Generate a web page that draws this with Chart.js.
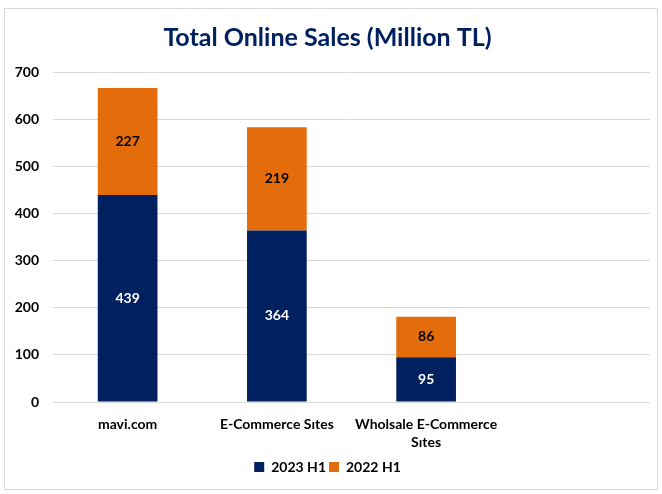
<!DOCTYPE html>
<html>
<head>
<meta charset="utf-8">
<script src="https://cdn.jsdelivr.net/npm/chart.js@4"></script>
<style>
    html, body { margin: 0; padding: 0; background: #fff; }
    #box {
        position: absolute;
        left: 4px; top: 8px;
        width: 652px; height: 480px;
        border: 1px solid #d9d9d9;
    }
</style>
</head>
<body>
<div id="box"><canvas id="salesChart" width="652" height="480"></canvas></div>
<script>

// ================= DATA =================

const categories = ["mavi.com", "E-Commerce Sıtes", ["Wholsale E-Commerce", "Sıtes"], ""];
const sales2023 = [439, 364, 95, null];
const sales2022 = [227, 219, 86, null];

const NAVY = "#002060";
const ORANGE = "#E46C0A";

// value labels in the middle of each segment
const segmentLabels = {
    id: "segmentLabels",
    afterDatasetsDraw(chart) {
        const ctx = chart.ctx;
        ctx.save();
        ctx.font = "bold 14px Lato, 'Open Sans', sans-serif";
        ctx.textAlign = "center";
        ctx.textBaseline = "middle";
        chart.data.datasets.forEach((ds, di) => {
            chart.getDatasetMeta(di).data.forEach((bar, i) => {
                const v = ds.data[i];
                if (v == null) return;
                ctx.fillStyle = di === 0 ? "#ffffff" : "#000000";
                ctx.fillText(v, bar.x, (bar.y + bar.base) / 2);
            });
        });
        ctx.restore();
    }
};

new Chart(document.getElementById("salesChart"), {
    type: "bar",
    data: {
        labels: categories,
        datasets: [
            { label: "2023 H1", data: sales2023, backgroundColor: NAVY },
            { label: "2022 H1", data: sales2022, backgroundColor: ORANGE }
        ]
    },
    plugins: [segmentLabels],
    options: {
        responsive: false,
        animation: false,
        layout: { padding: { left: 0, right: 7, top: 0, bottom: 5 } },
        datasets: { bar: { barPercentage: 1, categoryPercentage: 0.4 } },
        plugins: {
            title: {
                display: true,
                text: "Total Online Sales (Million TL)",
                color: "#002060",
                font: { family: "Lato, 'Open Sans', sans-serif", size: 25, weight: "bold" },
                padding: { top: 14, bottom: 19 }
            },
            legend: {
                position: "bottom",
                labels: {
                    boxWidth: 10, boxHeight: 10,
                    color: "#000",
                    font: { family: "Lato, 'Open Sans', sans-serif", size: 14, weight: "bold" },
                    padding: 3
                }
            },
            tooltip: { enabled: false }
        },
        scales: {
            x: {
                stacked: true,
                grid: { display: false },
                border: { display: false },
                ticks: {
                    color: "#000",
                    maxRotation: 0,
                    padding: 6,
                    font: { family: "Lato, 'Open Sans', sans-serif", size: 14, weight: "bold", lineHeight: 1.25 }
                }
            },
            y: {
                stacked: true,
                min: 0, max: 700,
                afterFit(scale) { scale.width = 48; },
                grid: { color: "#d9d9d9", drawTicks: false },
                border: { display: false },
                ticks: {
                    stepSize: 100,
                    padding: 14,
                    color: "#000",
                    font: { family: "Lato, 'Open Sans', sans-serif", size: 14, weight: "bold" }
                }
            }
        }
    }
});

</script>
</body>
</html>
